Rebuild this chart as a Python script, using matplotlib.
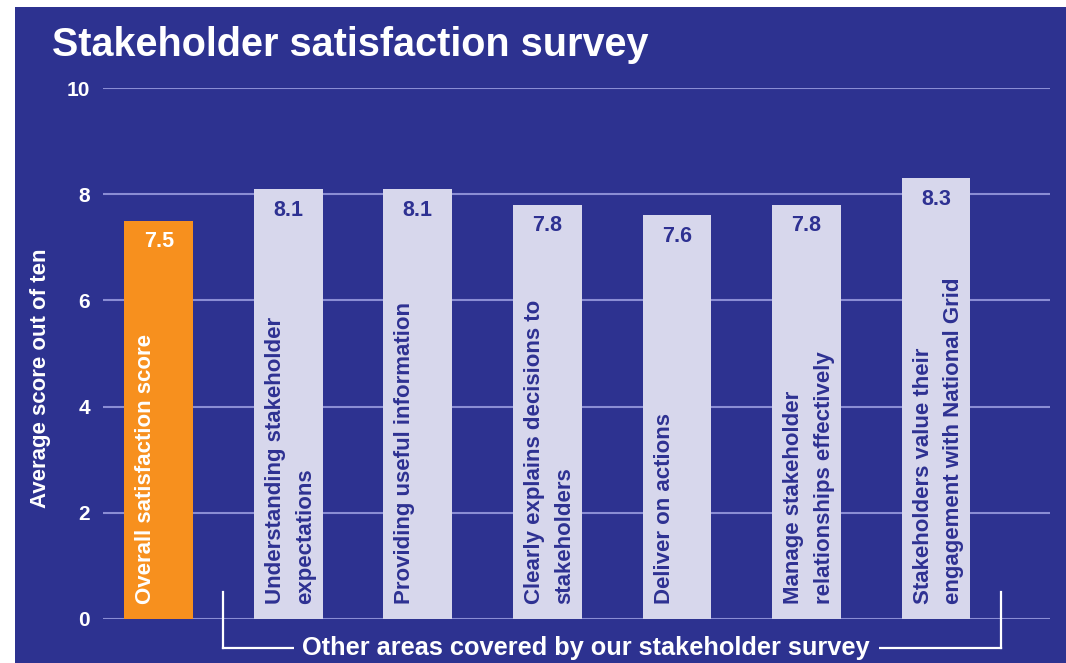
import matplotlib
matplotlib.use("Agg")
import matplotlib.pyplot as plt
from matplotlib.patches import Rectangle
from matplotlib.lines import Line2D

plt.rcParams['font.family'] = ['Liberation Sans', 'DejaVu Sans']

categories = [
    "Overall satisfaction score",
    "Understanding stakeholder\nexpectations",
    "Providing useful information",
    "Clearly explains decisions to\nstakeholders",
    "Deliver on actions",
    "Manage stakeholder\nrelationships effectively",
    "Stakeholders value their\nengagement with National Grid",
]
scores = [7.5, 8.1, 8.1, 7.8, 7.6, 7.8, 8.3]
y_ticks = [0, 2, 4, 6, 8, 10]

title = "Stakeholder satisfaction survey"
y_label = "Average score out of ten"
bracket_label = "Other areas covered by our stakeholder survey"

BG = "#2D3290"
LAV = "#D7D7EC"
ORANGE = "#F7901E"
NAVY = "#2E3192"
GRID = "#8A8DD4"

W, H = 1066, 663
fig = plt.figure(figsize=(W / 100, H / 100), dpi=100)
fig.patch.set_facecolor("white")
fig.patches.append(Rectangle((15 / W, 0), 1 - 15 / W, 1 - 7 / H,
                             transform=fig.transFigure, facecolor=BG,
                             edgecolor="none", zorder=-10))

ax = fig.add_axes([103 / W, 44 / H, (1050 - 103) / W, (619 - 88) / H])
ax.set_facecolor(BG)
ax.patch.set_alpha(0)

x = list(range(len(scores)))
colors = [ORANGE] + [LAV] * (len(scores) - 1)
ax.bar(x, scores, width=0.53, color=colors, zorder=3)

ax.set_xlim(-0.43, 6.88)
ax.set_ylim(0, 10)
ax.set_yticks(y_ticks)
ax.set_yticklabels([str(t) for t in y_ticks], color="white",
                   fontsize=15, fontweight="bold")
ax.tick_params(axis="y", length=0, pad=9.5)
ax.set_xticks([])
for s in ax.spines.values():
    s.set_visible(False)
ax.yaxis.grid(True, color=GRID, linewidth=1.5, zorder=0)
ax.set_axisbelow(True)

fig.text(41 / W, 1 - 378 / H, y_label, rotation=90, ha="center",
         va="center", color="white", fontsize=16, fontweight="bold")

for i, (cat, v) in enumerate(zip(categories, scores)):
    tc = "white" if i == 0 else NAVY
    ax.text(i, v - 0.2, f"{v:.1f}", ha="center", va="top", color=tc,
            fontsize=15.5, fontweight="bold", zorder=5)
    ax.text(i - 0.18, 0.28, cat, rotation=90, ha="left", va="bottom",
            color=tc, fontsize=16, fontweight="bold", zorder=5,
            linespacing=1.6)

# bracket
by = -0.55
for xs, ys in [([0.5, 0.5], [0.5, by]), ([6.5, 6.5], [0.5, by]),
               ([0.5, 6.5], [by, by])]:
    ax.add_line(Line2D(xs, ys, color="white", linewidth=1.6,
                       clip_on=False, zorder=4))
ax.text(3.3, by, bracket_label, ha="center", va="center", color="white",
        fontsize=18.3, fontweight="bold", zorder=6, clip_on=False,
        bbox=dict(boxstyle="square,pad=0.35", facecolor=BG, edgecolor="none"))

fig.text(52 / W, 1 - 56 / H, title, ha="left", va="baseline",
         color="white", fontsize=28.5, fontweight="bold")

fig.savefig("out.png", dpi=100, facecolor=fig.get_facecolor())
